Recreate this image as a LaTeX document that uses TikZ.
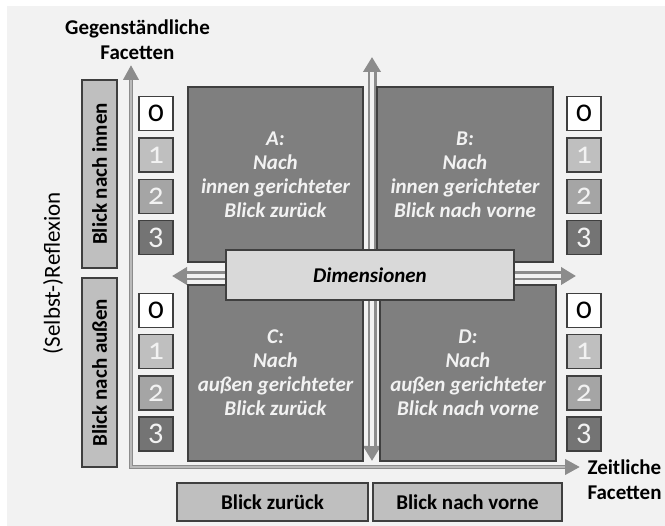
\documentclass[tikz,border=0pt]{standalone}
\usepackage{fontspec}
\setmainfont{Carlito}
\usepackage{xcolor}
\usetikzlibrary{arrows.meta,positioning}

\definecolor{bggray}{HTML}{F2F2F2}
\definecolor{quadgray}{HTML}{7F7F7F}
\definecolor{edgegray}{HTML}{3F3F3F}
\definecolor{sidegray}{HTML}{BFBFBF}
\definecolor{dimgray}{HTML}{D9D9D9}
\definecolor{arrowgray}{HTML}{8C8C8C}
\definecolor{lvlone}{HTML}{BFBFBF}
\definecolor{lvltwo}{HTML}{A5A5A5}
\definecolor{lvlthree}{HTML}{747474}

\begin{document}
\begin{tikzpicture}[x=1pt, y=-1pt,
  bigfont/.style={font=\fontsize{21}{25}\selectfont\bfseries},
  quad/.style={draw=edgegray, line width=1.2pt, fill=quadgray, inner sep=0pt,
    minimum width=175pt, minimum height=175pt, text=bggray, align=center,
    font=\fontsize{21}{24}\selectfont\bfseries\itshape},
  sidebox/.style={draw=edgegray, line width=1.2pt, fill=sidegray, inner sep=0pt, bigfont},
  lvl/.style={draw=edgegray, line width=1.3pt, minimum size=34pt, inner sep=0pt,
    font=\fontsize{31}{31}\selectfont\addfontfeatures{Numbers=OldStyle}},
  axis/.style={draw=arrowgray, line width=4pt,
    {Triangle[length=15pt,width=15pt]}-{Triangle[length=15pt,width=15pt]}},
  axiscore/.style={draw=arrowgray!55!bggray, line width=1.2pt, shorten <=15pt, shorten >=15pt},
  dimarrow/.style={draw=arrowgray, line width=9pt,
    {Triangle[length=15pt,width=17pt]}-{Triangle[length=15pt,width=17pt]}},
  dimcore/.style={draw=bggray, line width=4pt, shorten <=15pt, shorten >=15pt}]
  \useasboundingbox (0,0) rectangle (665,526);
  \fill[bggray] (7,6) rectangle (665,526);

  % Axes
  \coordinate (origin) at (131,467);
  \coordinate (ytip) at (131,65);
  \coordinate (xtip) at (580,467);
  \draw[axis] (ytip) -- (origin) -- (xtip);
  \draw[axiscore] (ytip) -- (origin) -- (xtip);
  \node[bigfont, align=center] (ytitle) at (137.5,39.5) {Gegenständliche\\Facetten};
  \node[bigfont, align=left, anchor=west] (xtitle) at (584,480) {Zeitliche\\Facetten};

  % Dimension arrows
  \coordinate (vtop) at (372,57);
  \coordinate (vbot) at (372,461);
  \coordinate (hleft) at (172,276);
  \coordinate (hright) at (576,276);
  \draw[dimarrow] (vtop) -- (vbot);
  \draw[dimcore] (vtop) -- (vbot);
  \draw[dimarrow] (hleft) -- (hright);
  \draw[dimcore] (hleft) -- (hright);

  % Quadrants
  \node[quad] (qa) at (275.5,174.5) {A:\\Nach\\innen gerichteter\\Blick zurück};
  \node[quad, minimum width=176pt] (qb) at (465,174.5) {B:\\Nach\\innen gerichteter\\Blick nach vorne};
  \node[quad, minimum height=176pt] (qc) at (275.5,373) {C:\\Nach\\außen gerichteter\\Blick zurück};
  \node[quad, minimum width=176pt, minimum height=176pt] (qd) at (468,373) {D:\\Nach\\außen gerichteter\\Blick nach vorne};
  \node[draw=edgegray, line width=1.2pt, fill=dimgray, minimum width=288pt, minimum height=50pt,
    font=\fontsize{21}{24}\selectfont\bfseries\itshape] (dim) at (370,275) {Dimensionen};

  % Levels 0-3
  \foreach \col/\xx/\yy in {lt/156/113.8, lb/156/310.5, rt/584/113.8, rb/584/310.5}
    \foreach \n/\fc/\tc in {0/white/black, 1/lvlone/bggray, 2/lvltwo/bggray, 3/lvlthree/bggray}
      \node[lvl, fill=\fc, text=\tc] (\col\n) at (\xx,{\yy+41.2*\n}) {\n};

  % Side and bottom labels
  \node[sidebox, minimum width=188pt, minimum height=35pt, rotate=90] (inner) at (99.5,174) {Blick nach innen};
  \node[sidebox, minimum width=189pt, minimum height=35pt, rotate=90] (outer) at (99.5,372.5) {Blick nach außen};
  \node[font=\fontsize{23}{24}\selectfont, rotate=90] (refl) at (53,273) {(Selbst-)Reflexion};
  \node[sidebox, minimum width=191pt, minimum height=38pt] (back) at (272.5,502) {Blick zurück};
  \node[sidebox, minimum width=189pt, minimum height=38pt] (ahead) at (467.5,502) {Blick nach vorne};
\end{tikzpicture}
\end{document}
